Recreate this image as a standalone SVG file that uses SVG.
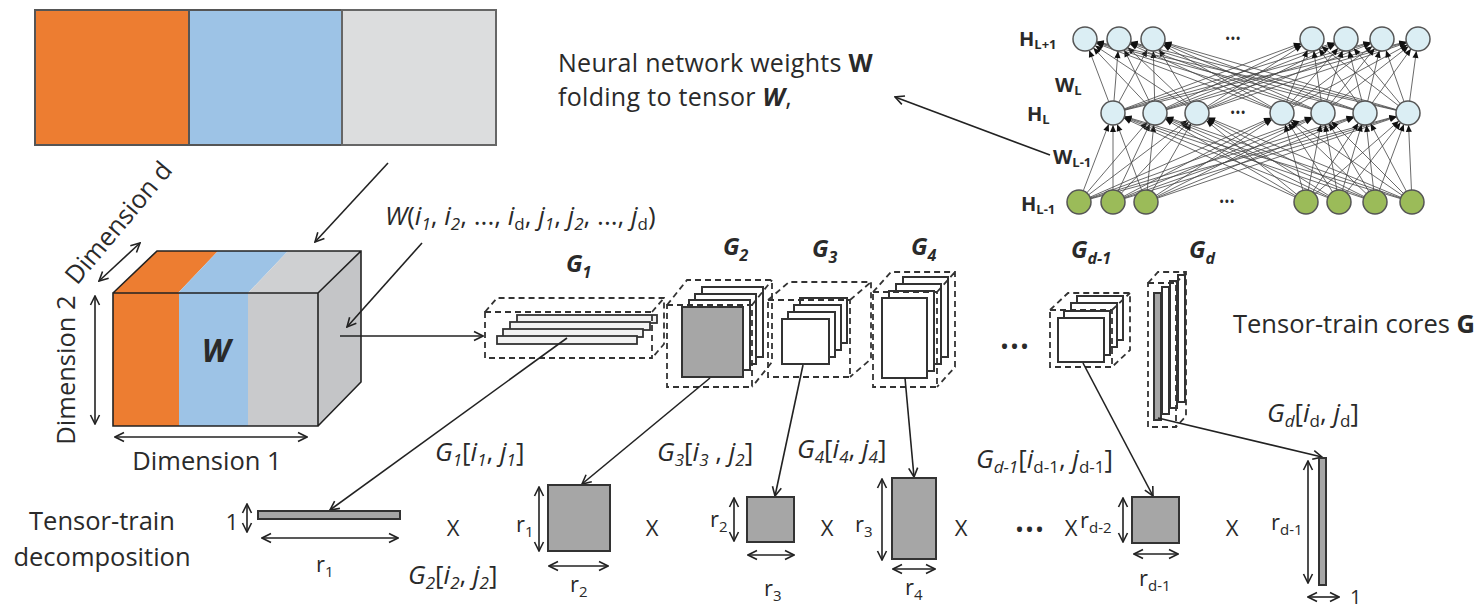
<svg xmlns="http://www.w3.org/2000/svg" width="1479" height="608" viewBox="0 0 1479 608">
<style>
text{font-family:'Open Sans','Liberation Sans',sans-serif;fill:#2a2a2a}
.t24{font-size:24px}
.t25{font-size:25.5px}
.t26{font-size:26px}
.t22{font-size:22px}
.cap{font-size:25px;letter-spacing:0.3px}
.it{font-style:italic}
.b{font-weight:bold}
.gl{font-size:24px;font-weight:bold;font-style:italic}
.nl{font-size:20px;font-weight:bold}
.ln{stroke:#222;stroke-width:1.6;fill:none}
.ar{stroke:#222;stroke-width:1.6;fill:none;marker-end:url(#ah)}
.dar{stroke:#222;stroke-width:1.6;fill:none;marker-end:url(#ah);marker-start:url(#ah)}
.dash{stroke:#333;stroke-width:1.8;fill:none;stroke-dasharray:6 4}
.pl{fill:#f2f2f2;stroke:#333;stroke-width:1.8}
.pg{fill:#a6a6a6;stroke:#333;stroke-width:2}
.pw{fill:#ffffff;stroke:#333;stroke-width:2}
.nn line{stroke:#444;stroke-width:0.8;marker-end:url(#tri)}
.cu{fill:#dbeef4;stroke:#555;stroke-width:1.5}
.cg{fill:#9bbb59;stroke:#555;stroke-width:1.5}
</style>
<defs>
<marker id="ah" viewBox="0 0 12 12" refX="11" refY="6" markerWidth="12" markerHeight="12" markerUnits="userSpaceOnUse" orient="auto-start-reverse">
<path d="M2,1.5 L11,6 L2,10.5" fill="none" stroke="#222" stroke-width="1.6"/>
</marker>
<marker id="tri" viewBox="0 0 24 8" refX="24" refY="4" markerWidth="24" markerHeight="8" markerUnits="userSpaceOnUse" orient="auto">
<path d="M5,1 L12,4 L5,7 z" fill="#111"/>
</marker>
</defs>

<g id="weights-bar">
<rect x="35" y="10" width="154" height="135" fill="#ed7d31" stroke="#555" stroke-width="2"/>
<rect x="189" y="10" width="153" height="135" fill="#9dc3e6" stroke="#555" stroke-width="2"/>
<rect x="342" y="10" width="154" height="135" fill="#dcddde" stroke="#666" stroke-width="2"/>
</g>

<g id="nn-caption">
<text class="cap" x="558" y="72">Neural network weights <tspan class="b">W</tspan></text>
<text class="cap" x="558" y="106">folding to tensor <tspan class="b it">W</tspan>,</text>
</g>

<g id="neural-network">
<g class="nn">
<line x1="1079" y1="202" x2="1113" y2="113"/><line x1="1079" y1="202" x2="1155" y2="113"/><line x1="1079" y1="202" x2="1197" y2="113"/><line x1="1079" y1="202" x2="1282" y2="113"/><line x1="1079" y1="202" x2="1323" y2="113"/><line x1="1079" y1="202" x2="1365" y2="113"/><line x1="1079" y1="202" x2="1408" y2="113"/>
<line x1="1113" y1="202" x2="1113" y2="113"/><line x1="1113" y1="202" x2="1155" y2="113"/><line x1="1113" y1="202" x2="1197" y2="113"/><line x1="1113" y1="202" x2="1282" y2="113"/><line x1="1113" y1="202" x2="1323" y2="113"/><line x1="1113" y1="202" x2="1365" y2="113"/><line x1="1113" y1="202" x2="1408" y2="113"/>
<line x1="1146" y1="202" x2="1113" y2="113"/><line x1="1146" y1="202" x2="1155" y2="113"/><line x1="1146" y1="202" x2="1197" y2="113"/><line x1="1146" y1="202" x2="1282" y2="113"/><line x1="1146" y1="202" x2="1323" y2="113"/><line x1="1146" y1="202" x2="1365" y2="113"/><line x1="1146" y1="202" x2="1408" y2="113"/>
<line x1="1306" y1="202" x2="1113" y2="113"/><line x1="1306" y1="202" x2="1155" y2="113"/><line x1="1306" y1="202" x2="1197" y2="113"/><line x1="1306" y1="202" x2="1282" y2="113"/><line x1="1306" y1="202" x2="1323" y2="113"/><line x1="1306" y1="202" x2="1365" y2="113"/><line x1="1306" y1="202" x2="1408" y2="113"/>
<line x1="1339" y1="202" x2="1113" y2="113"/><line x1="1339" y1="202" x2="1155" y2="113"/><line x1="1339" y1="202" x2="1197" y2="113"/><line x1="1339" y1="202" x2="1282" y2="113"/><line x1="1339" y1="202" x2="1323" y2="113"/><line x1="1339" y1="202" x2="1365" y2="113"/><line x1="1339" y1="202" x2="1408" y2="113"/>
<line x1="1375" y1="202" x2="1113" y2="113"/><line x1="1375" y1="202" x2="1155" y2="113"/><line x1="1375" y1="202" x2="1197" y2="113"/><line x1="1375" y1="202" x2="1282" y2="113"/><line x1="1375" y1="202" x2="1323" y2="113"/><line x1="1375" y1="202" x2="1365" y2="113"/><line x1="1375" y1="202" x2="1408" y2="113"/>
<line x1="1412" y1="202" x2="1113" y2="113"/><line x1="1412" y1="202" x2="1155" y2="113"/><line x1="1412" y1="202" x2="1197" y2="113"/><line x1="1412" y1="202" x2="1282" y2="113"/><line x1="1412" y1="202" x2="1323" y2="113"/><line x1="1412" y1="202" x2="1365" y2="113"/><line x1="1412" y1="202" x2="1408" y2="113"/>
<line x1="1113" y1="113" x2="1085" y2="39"/><line x1="1113" y1="113" x2="1119" y2="39"/><line x1="1113" y1="113" x2="1153" y2="39"/><line x1="1113" y1="113" x2="1312" y2="39"/><line x1="1113" y1="113" x2="1346" y2="39"/><line x1="1113" y1="113" x2="1382" y2="39"/><line x1="1113" y1="113" x2="1418" y2="39"/>
<line x1="1155" y1="113" x2="1085" y2="39"/><line x1="1155" y1="113" x2="1119" y2="39"/><line x1="1155" y1="113" x2="1153" y2="39"/><line x1="1155" y1="113" x2="1312" y2="39"/><line x1="1155" y1="113" x2="1346" y2="39"/><line x1="1155" y1="113" x2="1382" y2="39"/><line x1="1155" y1="113" x2="1418" y2="39"/>
<line x1="1197" y1="113" x2="1085" y2="39"/><line x1="1197" y1="113" x2="1119" y2="39"/><line x1="1197" y1="113" x2="1153" y2="39"/><line x1="1197" y1="113" x2="1312" y2="39"/><line x1="1197" y1="113" x2="1346" y2="39"/><line x1="1197" y1="113" x2="1382" y2="39"/><line x1="1197" y1="113" x2="1418" y2="39"/>
<line x1="1282" y1="113" x2="1085" y2="39"/><line x1="1282" y1="113" x2="1119" y2="39"/><line x1="1282" y1="113" x2="1153" y2="39"/><line x1="1282" y1="113" x2="1312" y2="39"/><line x1="1282" y1="113" x2="1346" y2="39"/><line x1="1282" y1="113" x2="1382" y2="39"/><line x1="1282" y1="113" x2="1418" y2="39"/>
<line x1="1323" y1="113" x2="1085" y2="39"/><line x1="1323" y1="113" x2="1119" y2="39"/><line x1="1323" y1="113" x2="1153" y2="39"/><line x1="1323" y1="113" x2="1312" y2="39"/><line x1="1323" y1="113" x2="1346" y2="39"/><line x1="1323" y1="113" x2="1382" y2="39"/><line x1="1323" y1="113" x2="1418" y2="39"/>
<line x1="1365" y1="113" x2="1085" y2="39"/><line x1="1365" y1="113" x2="1119" y2="39"/><line x1="1365" y1="113" x2="1153" y2="39"/><line x1="1365" y1="113" x2="1312" y2="39"/><line x1="1365" y1="113" x2="1346" y2="39"/><line x1="1365" y1="113" x2="1382" y2="39"/><line x1="1365" y1="113" x2="1418" y2="39"/>
<line x1="1408" y1="113" x2="1085" y2="39"/><line x1="1408" y1="113" x2="1119" y2="39"/><line x1="1408" y1="113" x2="1153" y2="39"/><line x1="1408" y1="113" x2="1312" y2="39"/><line x1="1408" y1="113" x2="1346" y2="39"/><line x1="1408" y1="113" x2="1382" y2="39"/><line x1="1408" y1="113" x2="1418" y2="39"/>
</g>
<g id="layer-top">
<circle class="cu" cx="1085" cy="39" r="12"/><circle class="cu" cx="1119" cy="39" r="12"/><circle class="cu" cx="1153" cy="39" r="12"/><circle class="cu" cx="1312" cy="39" r="12"/><circle class="cu" cx="1346" cy="39" r="12"/><circle class="cu" cx="1382" cy="39" r="12"/><circle class="cu" cx="1418" cy="39" r="12"/>
</g>
<g id="layer-mid">
<circle class="cu" cx="1113" cy="113" r="12"/><circle class="cu" cx="1155" cy="113" r="12"/><circle class="cu" cx="1197" cy="113" r="12"/><circle class="cu" cx="1282" cy="113" r="12"/><circle class="cu" cx="1323" cy="113" r="12"/><circle class="cu" cx="1365" cy="113" r="12"/><circle class="cu" cx="1408" cy="113" r="12"/>
</g>
<g id="layer-bot">
<circle class="cg" cx="1079" cy="202" r="12"/><circle class="cg" cx="1113" cy="202" r="12"/><circle class="cg" cx="1146" cy="202" r="12"/><circle class="cg" cx="1306" cy="202" r="12"/><circle class="cg" cx="1339" cy="202" r="12"/><circle class="cg" cx="1375" cy="202" r="12"/><circle class="cg" cx="1412" cy="202" r="12"/>
</g>
<text x="1233" y="44" font-size="14" text-anchor="middle">•••</text>
<text x="1238" y="118" font-size="14" text-anchor="middle">•••</text>
<text x="1227" y="207" font-size="14" text-anchor="middle">•••</text>
<text class="nl" x="1019" y="46">H<tspan font-size="13" dy="3">L+1</tspan></text>
<text class="nl" x="1055" y="92">W<tspan font-size="13" dy="3">L</tspan></text>
<text class="nl" x="1027" y="121">H<tspan font-size="13" dy="3">L</tspan></text>
<text class="nl" x="1053" y="164">W<tspan font-size="13" dy="3">L-1</tspan></text>
<text class="nl" x="1021" y="211">H<tspan font-size="13" dy="3">L-1</tspan></text>
</g>

<g id="tensor-cube">
<rect x="113" y="293" width="66" height="133" fill="#ed7d31"/>
<rect x="179" y="293" width="69" height="133" fill="#9dc3e6"/>
<rect x="248" y="293" width="70" height="133" fill="#c9cacc"/>
<polygon points="113,293 157,251 218,251 178,293" fill="#ed7d31"/>
<polygon points="178,293 218,251 288,251 248,293" fill="#9dc3e6"/>
<polygon points="248,293 288,251 361,251 318,293" fill="#cfd0d2"/>
<polygon points="318,293 361,251 361,382 318,426" fill="#c4c5c7"/>
<path class="ln" d="M113,293 H318 V426 H113 Z M113,293 L157,251 H361 V382 L318,426 M318,293 L361,251" stroke-width="2"/>
<text x="216" y="362" font-size="32" font-weight="bold" font-style="italic" text-anchor="middle" fill="#1a1a1a">W</text>
</g>

<g id="dimension-labels">
<line class="dar" x1="99" y1="281" x2="140" y2="243"/>
<line class="dar" x1="95" y1="296" x2="95" y2="424"/>
<line class="dar" x1="115" y1="437" x2="307" y2="437"/>
<text class="t25" transform="translate(77,286) rotate(-50)">Dimension d</text>
<text class="t25" transform="translate(75,370) rotate(-90)" text-anchor="middle">Dimension 2</text>
<text class="t25" x="207" y="470" text-anchor="middle">Dimension 1</text>
</g>

<g id="element-label">
<text class="t26" x="385" y="225"><tspan class="it">W</tspan>(<tspan class="it">i</tspan><tspan class="it" font-size="17" dy="5">1</tspan><tspan dy="-5">, </tspan><tspan class="it">i</tspan><tspan class="it" font-size="17" dy="5">2</tspan><tspan dy="-5">, ..., </tspan><tspan class="it">i</tspan><tspan font-size="17" dy="5">d</tspan><tspan dy="-5">, </tspan><tspan class="it">j</tspan><tspan class="it" font-size="17" dy="5">1</tspan><tspan dy="-5">, </tspan><tspan class="it">j</tspan><tspan class="it" font-size="17" dy="5">2</tspan><tspan dy="-5">, ..., </tspan><tspan class="it">j</tspan><tspan font-size="17" dy="5">d</tspan><tspan dy="-5">)</tspan></text>
</g>

<g id="core-G1">
<rect class="pl" x="517" y="315" width="140" height="8"/>
<rect class="pl" x="510" y="322" width="140" height="8"/>
<rect class="pl" x="503" y="329" width="140" height="8"/>
<rect class="pl" x="497" y="336" width="140" height="8"/>
<path class="dash" d="M485,312 H652 V358 H485 Z M485,312 L497,298 H664 V344 L652,358 M652,312 L664,298"/>
<text class="gl" x="566" y="272">G<tspan font-size="16" dy="6">1</tspan></text>
</g>

<g id="core-G2">
<rect class="pw" x="702" y="287" width="61" height="70"/>
<rect class="pw" x="695" y="294" width="61" height="70"/>
<rect class="pw" x="689" y="300" width="61" height="70"/>
<rect class="pg" x="682" y="307" width="61" height="70"/>
<path class="dash" d="M667,305 H752 V387 H667 Z M667,305 L687,280 H772 V362 L752,387 M752,305 L772,280"/>
<text class="gl" x="723" y="255">G<tspan font-size="16" dy="6">2</tspan></text>
</g>

<g id="core-G3">
<rect class="pw" x="800" y="298" width="47" height="45"/>
<rect class="pw" x="794" y="305" width="47" height="45"/>
<rect class="pw" x="788" y="312" width="47" height="45"/>
<rect class="pw" x="782" y="319" width="47" height="45"/>
<path class="dash" d="M768,300 H850 V377 H768 Z M768,300 L789,282 H871 V359 L850,377 M850,300 L871,282"/>
<text class="gl" x="812" y="257">G<tspan font-size="16" dy="6">3</tspan></text>
</g>

<g id="core-G4">
<rect class="pw" x="903" y="277" width="45" height="80"/>
<rect class="pw" x="896" y="284" width="45" height="80"/>
<rect class="pw" x="889" y="291" width="45" height="80"/>
<rect class="pw" x="882" y="298" width="45" height="80"/>
<path class="dash" d="M873,292 H937 V387 H873 Z M873,292 L891,272 H955 V367 L937,387 M937,292 L955,272"/>
<text class="gl" x="911" y="255">G<tspan font-size="16" dy="6">4</tspan></text>
</g>

<text x="1015" y="355" font-size="24" text-anchor="middle" letter-spacing="1">•••</text>

<g id="core-Gd-1">
<rect class="pw" x="1077" y="296" width="46" height="44"/>
<rect class="pw" x="1071" y="303" width="46" height="44"/>
<rect class="pw" x="1064" y="311" width="46" height="44"/>
<rect class="pw" x="1058" y="318" width="46" height="44"/>
<path class="dash" d="M1050,310 H1112 V367 H1050 Z M1050,310 L1068,293 H1130 V350 L1112,367 M1112,310 L1130,293"/>
<text class="gl" x="1071" y="258">G<tspan font-size="16" dy="6">d-1</tspan></text>
</g>

<g id="core-Gd">
<rect class="pw" x="1178" y="275" width="7" height="127"/>
<rect class="pw" x="1170" y="281" width="7" height="127"/>
<rect class="pw" x="1162" y="287" width="7" height="127"/>
<rect class="pg" x="1154" y="293" width="7" height="127"/>
<path class="dash" d="M1148,283 H1176 V427 H1148 Z M1148,283 L1158,272 H1186 V416 L1176,427 M1176,283 L1186,272"/>
<text class="gl" x="1189" y="258">G<tspan font-size="16" dy="6">d</tspan></text>
</g>

<g id="cores-caption">
<text class="t25" x="1233" y="333">Tensor-train cores <tspan class="b">G</tspan></text>
</g>

<g id="connectors">
<line class="ar" x1="388" y1="163" x2="315" y2="242"/>
<line class="ar" x1="422" y1="243" x2="347" y2="327"/>
<line class="ar" x1="340" y1="336" x2="483" y2="336"/>
<line class="ar" x1="1050" y1="155" x2="895" y2="97"/>
<line class="ar" x1="567" y1="338" x2="330" y2="510"/>
<line class="ar" x1="710" y1="378" x2="582" y2="484"/>
<line class="ar" x1="803" y1="365" x2="775" y2="496"/>
<line class="ar" x1="905" y1="378" x2="914" y2="477"/>
<line class="ar" x1="1083" y1="363" x2="1153" y2="496"/>
<line class="ar" x1="1158" y1="418" x2="1322" y2="457"/>
</g>

<g id="slice-labels">
<text class="t26" x="435" y="461"><tspan class="it">G</tspan><tspan class="it" font-size="17" dy="5">1</tspan><tspan dy="-5">[</tspan><tspan class="it">i</tspan><tspan class="it" font-size="17" dy="5">1</tspan><tspan dy="-5">, </tspan><tspan class="it">j</tspan><tspan class="it" font-size="17" dy="5">1</tspan><tspan dy="-5">]</tspan></text>
<text class="t26" x="408" y="584"><tspan class="it">G</tspan><tspan class="it" font-size="17" dy="5">2</tspan><tspan dy="-5">[</tspan><tspan class="it">i</tspan><tspan class="it" font-size="17" dy="5">2</tspan><tspan dy="-5">, </tspan><tspan class="it">j</tspan><tspan class="it" font-size="17" dy="5">2</tspan><tspan dy="-5">]</tspan></text>
<text class="t26" x="657" y="461"><tspan class="it">G</tspan><tspan class="it" font-size="17" dy="5">3</tspan><tspan dy="-5">[</tspan><tspan class="it">i</tspan><tspan class="it" font-size="17" dy="5">3</tspan><tspan dy="-5"> , </tspan><tspan class="it">j</tspan><tspan class="it" font-size="17" dy="5">2</tspan><tspan dy="-5">]</tspan></text>
<text class="t26" x="797" y="458"><tspan class="it">G</tspan><tspan class="it" font-size="17" dy="5">4</tspan><tspan dy="-5">[</tspan><tspan class="it">i</tspan><tspan class="it" font-size="17" dy="5">4</tspan><tspan dy="-5">, </tspan><tspan class="it">j</tspan><tspan class="it" font-size="17" dy="5">4</tspan><tspan dy="-5">]</tspan></text>
<text class="t26" x="976" y="468"><tspan class="it">G</tspan><tspan class="it" font-size="17" dy="5">d-1</tspan><tspan dy="-5">[</tspan><tspan class="it">i</tspan><tspan font-size="17" dy="5">d-1</tspan><tspan dy="-5">, </tspan><tspan class="it">j</tspan><tspan font-size="17" dy="5">d-1</tspan><tspan dy="-5">]</tspan></text>
<text class="t26" x="1267" y="422"><tspan class="it">G</tspan><tspan class="it" font-size="17" dy="5">d</tspan><tspan dy="-5">[</tspan><tspan class="it">i</tspan><tspan font-size="17" dy="5">d</tspan><tspan dy="-5">, </tspan><tspan class="it">j</tspan><tspan font-size="17" dy="5">d</tspan><tspan dy="-5">]</tspan></text>
</g>

<g id="decomposition">
<text class="t25" x="102" y="530" text-anchor="middle">Tensor-train</text>
<text class="t25" x="102" y="566" text-anchor="middle">decomposition</text>

<text class="t22" x="232" y="530" text-anchor="middle">1</text>
<line class="dar" x1="247" y1="504" x2="247" y2="532"/>
<rect class="pg" x="258" y="511" width="142" height="8" stroke-width="1.8"/>
<line class="dar" x1="262" y1="538" x2="398" y2="538"/>
<text class="t22" x="316" y="572">r<tspan font-size="15" dy="5">1</tspan></text>

<text class="t22" x="453" y="536" text-anchor="middle">X</text>

<text class="t22" x="516" y="532">r<tspan font-size="15" dy="5">1</tspan></text>
<line class="dar" x1="539" y1="487" x2="539" y2="551"/>
<rect class="pg" x="548" y="485" width="62" height="66"/>
<line class="dar" x1="549" y1="566" x2="608" y2="566"/>
<text class="t22" x="570" y="592">r<tspan font-size="15" dy="5">2</tspan></text>

<text class="t22" x="652" y="536" text-anchor="middle">X</text>

<text class="t22" x="710" y="527">r<tspan font-size="15" dy="5">2</tspan></text>
<line class="dar" x1="734" y1="498" x2="734" y2="541"/>
<rect class="pg" x="747" y="497" width="47" height="45"/>
<line class="dar" x1="748" y1="555" x2="794" y2="555"/>
<text class="t22" x="764" y="596">r<tspan font-size="15" dy="5">3</tspan></text>

<text class="t22" x="827" y="536" text-anchor="middle">X</text>

<text class="t22" x="855" y="532">r<tspan font-size="15" dy="5">3</tspan></text>
<line class="dar" x1="882" y1="479" x2="882" y2="560"/>
<rect class="pg" x="892" y="478" width="44" height="81"/>
<line class="dar" x1="893" y1="569" x2="935" y2="569"/>
<text class="t22" x="905" y="595">r<tspan font-size="15" dy="5">4</tspan></text>

<text class="t22" x="961" y="536" text-anchor="middle">X</text>

<text x="1030" y="538" font-size="24" text-anchor="middle" letter-spacing="1">•••</text>
<text class="t22" x="1071" y="536" text-anchor="middle">X</text>
<text class="t22" x="1080" y="528">r<tspan font-size="15" dy="5">d-2</tspan></text>
<line class="dar" x1="1123" y1="498" x2="1123" y2="542"/>
<rect class="pg" x="1132" y="497" width="47" height="46"/>
<line class="dar" x1="1134" y1="554" x2="1178" y2="554"/>
<text class="t22" x="1139" y="586">r<tspan font-size="15" dy="5">d-1</tspan></text>

<text class="t22" x="1232" y="536" text-anchor="middle">X</text>

<text class="t22" x="1271" y="530">r<tspan font-size="15" dy="5">d-1</tspan></text>
<line class="dar" x1="1308" y1="461" x2="1308" y2="583"/>
<rect class="pg" x="1319" y="458" width="7" height="127" stroke-width="1.6"/>
<line class="dar" x1="1308" y1="597" x2="1339" y2="597"/>
<text x="1350" y="604" font-size="20">1</text>
</g>
</svg>
